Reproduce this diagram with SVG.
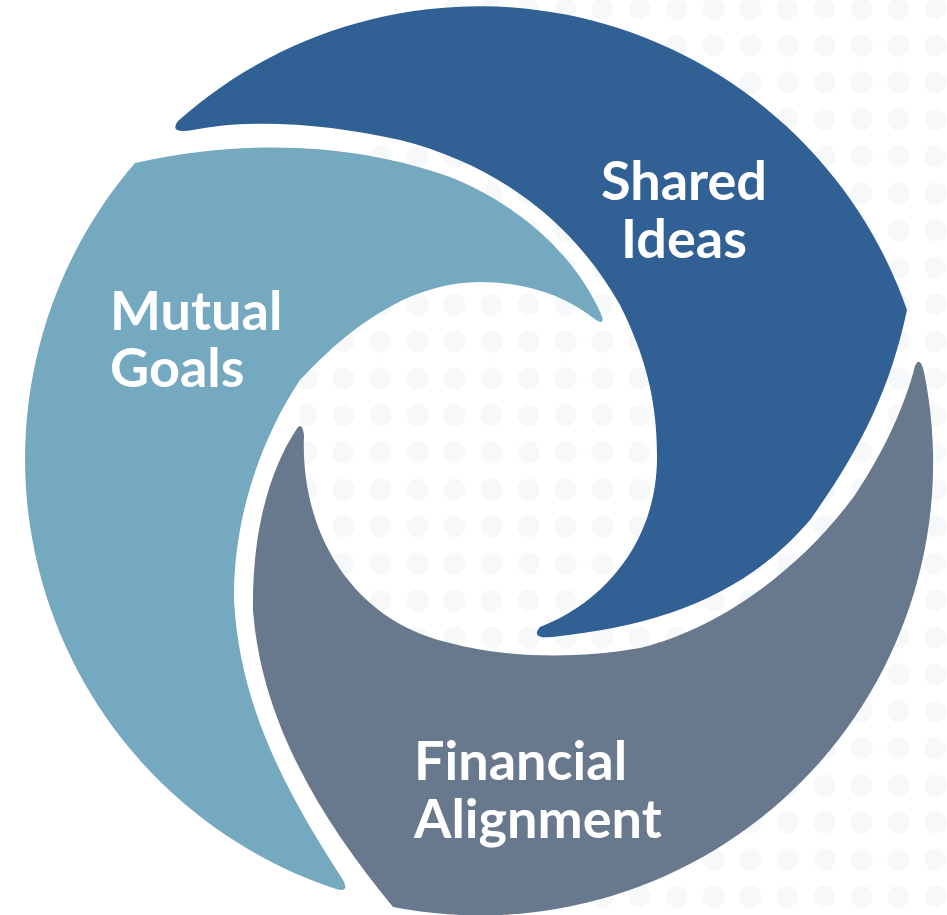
<svg xmlns="http://www.w3.org/2000/svg" width="947" height="915" viewBox="0 0 947 915">
  <style>
    .lbl { font-family: Lato, "Liberation Sans", sans-serif; font-weight: 700; font-size: 54px; fill: #ffffff; }
    .db { fill: #316094; }
    .lb { fill: #75a9bf; }
    .gr { fill: #68788d; }
  </style>
  <defs>
    <pattern id="dots" x="-8" y="-10" width="37" height="37" patternUnits="userSpaceOnUse">
      <circle cx="18.5" cy="18.5" r="11" fill="#f6f8fa"/>
    </pattern>
    <clipPath id="bgclip">
      <path d="M430 0 L947 0 L947 915 L430 915 L300 720 L300 300 Z"/>
    </clipPath>
  </defs>
  <rect width="947" height="915" fill="#ffffff"/>
  <rect width="947" height="915" fill="url(#dots)" clip-path="url(#bgclip)"/>

  <g id="shared-ideas">
    <path class="db" d="M178 121 A 453 453 0 0 1 907 310 C 890 390 860 450 810 520 C 750 590 670 625 552 637 Q 530 639 540 627 C 605 602 658 540 657 455 C 657 400 645 355 620 305 C 575 225 500 165 400 140 C 330 124 250 118 193 130 Q 168 134 178 121 Z"/>
    <text class="lbl" text-anchor="middle"><tspan x="684" y="200">Shared</tspan><tspan x="684" y="258">Ideas</tspan></text>
  </g>

  <g id="mutual-goals">
    <path class="lb" d="M135 163 A 453 453 0 0 0 336 889 Q 350 893 343 880 C 295 805 240 715 234 600 C 233 520 260 440 300 380 C 360 315 420 282 480 282 C 525 282 565 295 596 320 Q 606 326 601 314 C 575 255 520 205 450 177 C 370 148 260 135 135 163 Z"/>
    <text class="lbl"><tspan x="110" y="330">Mutual</tspan><tspan x="110" y="387">Goals</tspan></text>
  </g>

  <g id="financial-alignment">
    <path class="gr" d="M924 372 A 453 453 0 0 1 393 907 C 330 830 262 730 253 610 C 252 530 270 470 296 430 Q 302 420 304 435 C 300 530 350 620 450 643 C 490 654 560 662 640 648 C 720 628 800 570 855 495 C 885 450 905 405 915 366 Q 920 355 924 372 Z"/>
    <text class="lbl"><tspan x="414" y="780">Financial</tspan><tspan x="414" y="838">Alignment</tspan></text>
  </g>

  <g id="connectors"/>
</svg>
